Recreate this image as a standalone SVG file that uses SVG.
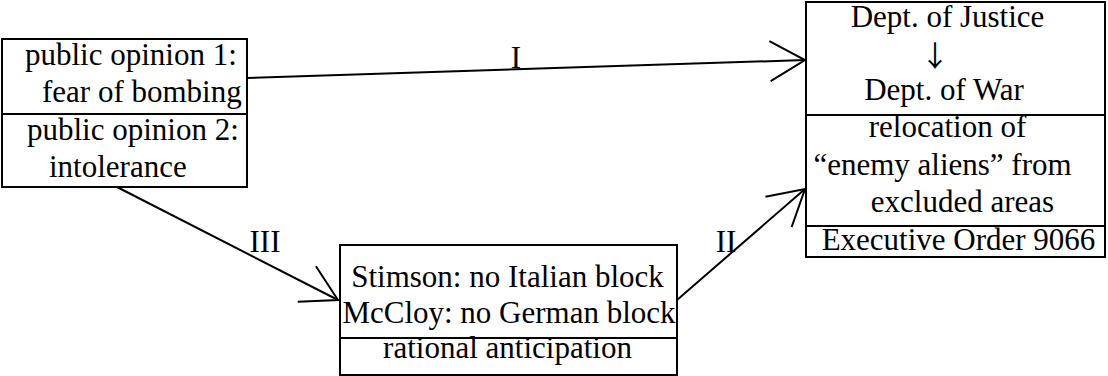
<svg xmlns="http://www.w3.org/2000/svg" width="1108" height="376" viewBox="0 0 1108 376">
<style>
.box{fill:#fff;stroke:#000;stroke-width:2}
.div{stroke:#000;stroke-width:2}
text{font-family:"Liberation Serif","Times New Roman",serif;font-size:31px;fill:#000}
.c{text-anchor:middle}
.sym{font-family:"Noto Sans CJK JP","DejaVu Sans",sans-serif;font-size:29px}
.edge{fill:none;stroke:#000;stroke-width:2;marker-end:url(#ah)}
</style>
<defs>
<marker id="ah" markerUnits="userSpaceOnUse" markerWidth="50" markerHeight="50" viewBox="-40 -25 45 50" refX="0" refY="0" orient="auto">
<path d="M-35,-20 L0,0 L-35,20" fill="none" stroke="#000" stroke-width="2"/>
</marker>
</defs>
<g id="connectors">
<path class="edge" d="M247,78 L805,60"/>
<text x="516" y="68" class="c">I</text>
<path class="edge" d="M117,187 L338,300"/>
<text x="265" y="252" class="c">III</text>
<path class="edge" d="M677,300 L805,189"/>
<text x="726" y="252" class="c">II</text>
</g>
<g id="public-opinion">
<rect class="box" x="2" y="39" width="245" height="148"/>
<line class="div" x1="2" y1="114" x2="247" y2="114"/>
<text x="25" y="65">public opinion 1:</text>
<text x="42" y="102">fear of bombing</text>
<text x="27" y="140">public opinion 2:</text>
<text x="49" y="177">intolerance</text>
</g>
<g id="rational-anticipation">
<rect class="box" x="340" y="245" width="337" height="130"/>
<line class="div" x1="340" y1="338" x2="677" y2="338"/>
<text x="507.5" y="287" class="c">Stimson: no Italian block</text>
<text x="509" y="323" class="c">McCloy: no German block</text>
<text x="507.5" y="358" class="c">rational anticipation</text>
</g>
<g id="relocation">
<rect class="box" x="806" y="2" width="299" height="255"/>
<line class="div" x1="806" y1="115" x2="1105" y2="115"/>
<line class="div" x1="806" y1="226" x2="1105" y2="226"/>
<text x="947.5" y="27" class="c">Dept. of Justice</text>
<text x="935" y="67" class="c sym">↓</text>
<text x="944" y="100" class="c">Dept. of War</text>
<text x="947.5" y="137" class="c">relocation of</text>
<text x="942.5" y="175" class="c">“enemy aliens” from</text>
<text x="962.5" y="212" class="c">excluded areas</text>
<text x="958.5" y="250" class="c">Executive Order 9066</text>
</g>
</svg>
